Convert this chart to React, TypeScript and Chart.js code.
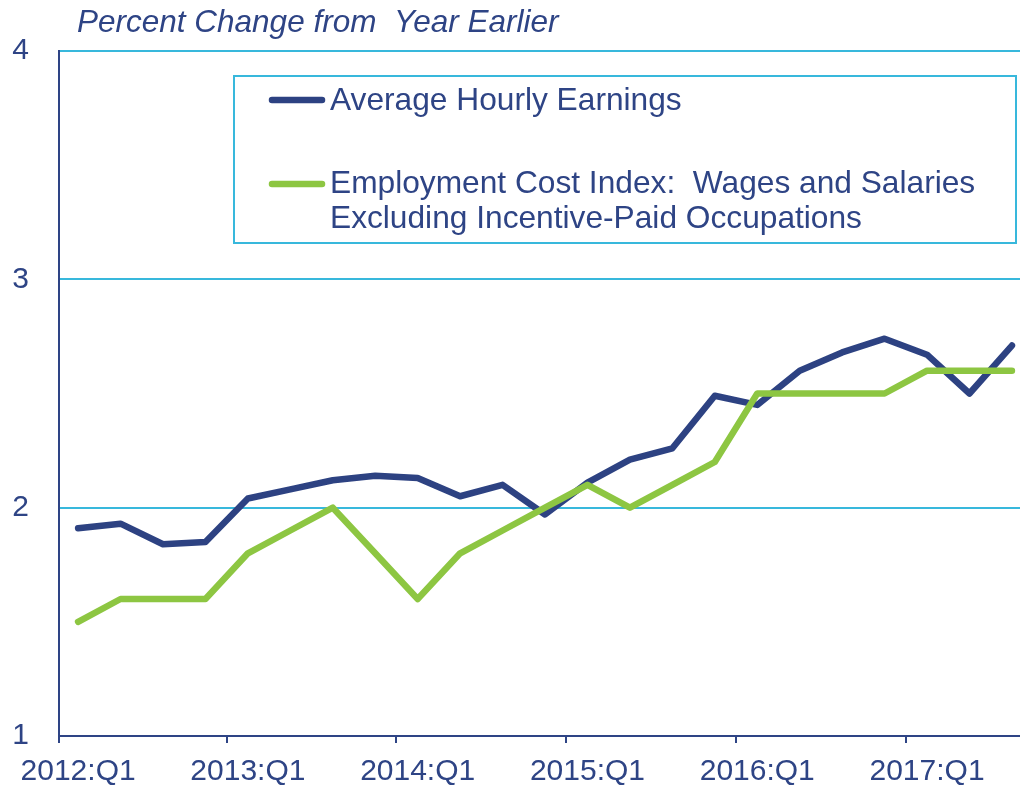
import React, { useEffect, useRef } from "react";
import { Chart, registerables } from "chart.js";

Chart.register(...registerables);

const categories = [
  "2012:Q1", "2012:Q2", "2012:Q3", "2012:Q4",
  "2013:Q1", "2013:Q2", "2013:Q3", "2013:Q4",
  "2014:Q1", "2014:Q2", "2014:Q3", "2014:Q4",
  "2015:Q1", "2015:Q2", "2015:Q3", "2015:Q4",
  "2016:Q1", "2016:Q2", "2016:Q3", "2016:Q4",
  "2017:Q1", "2017:Q2", "2017:Q3",
];

const averageHourlyEarnings = [
  1.91, 1.93, 1.84, 1.85,
  2.04, 2.08, 2.12, 2.14,
  2.13, 2.05, 2.10, 1.97,
  2.11, 2.21, 2.26, 2.49,
  2.45, 2.60, 2.68, 2.74,
  2.67, 2.50, 2.71,
];

const employmentCostIndex = [
  1.5, 1.6, 1.6, 1.6,
  1.8, 1.9, 2.0, 1.8,
  1.6, 1.8, 1.9, 2.0,
  2.1, 2.0, 2.1, 2.2,
  2.5, 2.5, 2.5, 2.5,
  2.6, 2.6, 2.6,
];

const labeledIndices = [0, 4, 8, 12, 16, 20];
const yTicks = [1, 2, 3, 4];

const titleText = "Percent Change from  Year Earlier";
const legendAHE = "Average Hourly Earnings";
const legendECI1 = "Employment Cost Index:  Wages and Salaries";
const legendECI2 = "Excluding Incentive-Paid Occupations";

const NAVY = "#2E4485";
const LINE_NAVY = "#2D4282";
const GREEN = "#8DC642";
const CYAN = "#38B8DC";
const X_MIN = -0.45;
const X_MAX = 22.19;

const overlayPlugin = {
  id: "overlay",
  afterDraw(chart: any) {
    const ctx = chart.ctx;
    ctx.save();
    ctx.fillStyle = NAVY;
    ctx.textBaseline = "alphabetic";
    ctx.textAlign = "left";
    ctx.font = "italic 31.5px 'Liberation Sans', Arial, sans-serif";
    ctx.fillText(titleText, 77, 32);

    // legend box
    ctx.strokeStyle = CYAN;
    ctx.lineWidth = 2;
    ctx.strokeRect(234, 76, 782, 167);

    ctx.lineCap = "round";
    ctx.lineWidth = 6.5;
    ctx.strokeStyle = LINE_NAVY;
    ctx.beginPath();
    ctx.moveTo(272, 100);
    ctx.lineTo(322, 100);
    ctx.stroke();
    ctx.strokeStyle = GREEN;
    ctx.beginPath();
    ctx.moveTo(272, 184);
    ctx.lineTo(322, 184);
    ctx.stroke();

    ctx.font = "31.7px 'Liberation Sans', Arial, sans-serif";
    ctx.fillStyle = NAVY;
    ctx.fillText(legendAHE, 330, 110);
    ctx.fillText(legendECI1, 330, 193);
    ctx.fillText(legendECI2, 330, 228);
    ctx.restore();
  },
};

export default function App() {
  const canvasRef = useRef<HTMLCanvasElement | null>(null);

  useEffect(() => {
    if (!canvasRef.current) return;
    const boundaries = [X_MIN, 3.5, 7.5, 11.5, 15.5, 19.5];
    const chart = new Chart(canvasRef.current, {
      type: "line",
      data: {
        datasets: [
          {
            label: "Employment Cost Index",
            data: employmentCostIndex.map((v, i) => ({ x: i, y: v })),
            borderColor: GREEN,
            borderWidth: 6.5,
            borderCapStyle: "round",
            borderJoinStyle: "round",
            pointRadius: 0,
            tension: 0,
            order: 0,
          },
          {
            label: "Average Hourly Earnings",
            data: averageHourlyEarnings.map((v, i) => ({ x: i, y: v })),
            borderColor: LINE_NAVY,
            borderWidth: 6.5,
            borderCapStyle: "round",
            borderJoinStyle: "round",
            pointRadius: 0,
            tension: 0,
            order: 1,
          },
        ],
      },
      options: {
        responsive: false,
        animation: false,
        layout: { padding: { top: 51, right: 0, left: 0, bottom: 0 } },
        plugins: {
          legend: { display: false },
          tooltip: { enabled: false },
          title: { display: false },
        },
        scales: {
          x: {
            type: "linear",
            min: X_MIN,
            max: X_MAX,
            afterBuildTicks: (scale: any) => {
              const vals = [...boundaries, ...labeledIndices].sort((a, b) => a - b);
              scale.ticks = vals.map((v) => ({ value: v }));
            },
            afterFit: (scale: any) => {
              scale.height = 52;
            },
            ticks: {
              autoSkip: false,
              maxRotation: 0,
              minRotation: 0,
              padding: 11,
              color: NAVY,
              font: { family: "'Liberation Sans', Arial, sans-serif", size: 30 },
              callback: (value: any) => {
                const idx = labeledIndices.indexOf(value as number);
                return idx >= 0 ? categories[value as number] : "";
              },
            },
            grid: {
              drawOnChartArea: false,
              drawTicks: true,
              tickLength: 7,
              lineWidth: 2,
              color: (ctx: any) =>
                ctx.tick && labeledIndices.indexOf(ctx.tick.value) >= 0
                  ? "rgba(0,0,0,0)"
                  : NAVY,
            },
            border: { display: true, color: NAVY, width: 2 },
          },
          y: {
            type: "linear",
            min: 1,
            max: 4,
            afterBuildTicks: (scale: any) => {
              scale.ticks = yTicks.map((v) => ({ value: v }));
            },
            afterFit: (scale: any) => {
              scale.width = 59;
            },
            ticks: {
              padding: 30,
              color: NAVY,
              font: { family: "'Liberation Sans', Arial, sans-serif", size: 30 },
            },
            grid: {
              drawTicks: false,
              lineWidth: 2,
              color: (ctx: any) =>
                ctx.tick && ctx.tick.value === 1 ? "rgba(0,0,0,0)" : CYAN,
            },
            border: { display: true, color: NAVY, width: 2 },
          },
        },
      },
      plugins: [overlayPlugin],
    } as any);
    return () => chart.destroy();
  }, []);

  return (
    <div
      style={{
        position: "fixed",
        left: 0,
        top: 0,
        width: "1020px",
        height: "788px",
        background: "#ffffff",
      }}
    >
      <canvas
        ref={canvasRef}
        width={1020}
        height={788}
        style={{ display: "block", width: "1020px", height: "788px" }}
      />
    </div>
  );
}
